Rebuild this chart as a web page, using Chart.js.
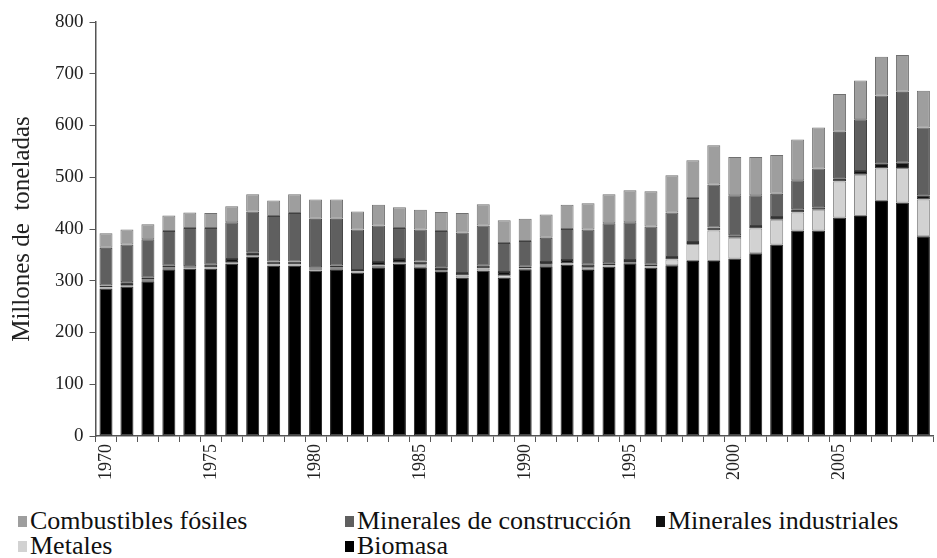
<!DOCTYPE html>
<html>
<head>
<meta charset="utf-8">
<script src="https://cdn.jsdelivr.net/npm/chart.js@4/dist/chart.umd.min.js"></script>
<style>
 body{margin:0;background:#fff;width:937px;height:558px;overflow:hidden;position:relative;font-family:"Liberation Serif";}
 #wrap{position:absolute;left:0;top:0;width:947px;height:482px;}
 #legend{position:absolute;left:0;top:508px;width:937px;font-size:26px;color:#111;}
 .item{position:absolute;white-space:nowrap;line-height:25px;}
 .item span.box{display:inline-block;width:9px;height:11px;margin-right:3px;vertical-align:2px;}
</style>
</head>
<body>
<div id="wrap"><canvas id="chart" width="947" height="482"></canvas></div>
<div id="legend"></div>
<script>
const years=[];
for(let y=1970;y<=2009;y++) years.push(String(y));

const yTicks=[0,100,200,300,400,500,600,700,800];

const biomasa=[285,289,299,322,323,323,333,347,329,329,
 320,322,316,326,333,326,317,306,320,306,
 322,328,331,321,327,334,325,330,338,338,
 343,353,370,397,397,422,425,454,451,386];
const metales=[2,3,3,3,2,3,3,3,3,3,
 3,3,2,4,3,5,4,4,4,5,
 2,3,3,4,3,2,3,11,33,59,
 40,48,48,35,40,70,80,63,67,71];
const minIndustriales=[4,5,4,4,3,5,6,5,5,5,
 3,4,3,6,6,6,5,5,5,6,
 3,5,6,6,4,4,3,5,4,6,
 5,5,5,6,5,6,7,10,10,8];
const minConstruccion=[73,73,74,67,74,71,71,79,88,94,
 94,91,78,71,60,62,70,78,78,56,
 50,47,60,68,77,73,74,86,85,83,
 77,59,45,56,75,90,100,131,137,131];
const combustibles=[28,29,29,30,30,29,31,33,30,36,
 37,37,35,40,40,38,37,38,41,44,
 43,45,47,51,56,62,68,72,73,76,
 74,74,75,79,79,73,75,75,71,71];

// bottom to top
const series=[
 {label:"Biomasa",data:biomasa,color:"#000000",border:"#222"},
 {label:"Metales",data:metales,color:"#d2d2d2",border:"#8a8a8a"},
 {label:"Minerales industriales",data:minIndustriales,color:"#111111",border:"#333"},
 {label:"Minerales de construcción",data:minConstruccion,color:"#5f5f5f",border:"#404040"},
 {label:"Combustibles fósiles",data:combustibles,color:"#9e9e9e",border:"#707070"}
];

const FONT="Liberation Serif";

new Chart(document.getElementById("chart"),{
 type:'bar',
 data:{
  labels:years,
  datasets:series.map(s=>({label:s.label,data:s.data,backgroundColor:s.color,borderColor:s.border,
   borderWidth:1,borderSkipped:false,barPercentage:0.62,categoryPercentage:1}))
 },
 options:{
  responsive:false,animation:false,devicePixelRatio:1,
  layout:{padding:{top:22,right:0,left:7,bottom:0}},
  plugins:{legend:{display:false},tooltip:{enabled:false}},
  scales:{
   x:{stacked:true,
    grid:{display:true,drawOnChartArea:false,drawTicks:true,tickLength:6,color:'#555',offset:true},
    border:{display:true,color:'#555',width:1.5},
    ticks:{autoSkip:false,minRotation:90,maxRotation:90,padding:2,color:'#222',
     font:{family:FONT,size:18},
     callback:function(v,i){let y=years[i];return (Number(y)%5===0)?y:"";}}
   },
   y:{stacked:true,min:0,max:800,
    afterBuildTicks:ax=>{ax.ticks=yTicks.map(v=>({value:v}));},
    grid:{display:true,drawOnChartArea:false,drawTicks:true,tickLength:6,color:'#555'},
    border:{display:true,color:'#555',width:1.5},
    ticks:{padding:6,color:'#222',font:{family:FONT,size:19}},
    title:{display:true,text:"Millones de  toneladas",color:'#222',font:{family:FONT,size:25},padding:{top:0,bottom:12}}
   }
  }
 }
});

// legend laid out in three columns, two rows, like the original
const legendOrder=[4,3,2,1,0];
const cols=[18,345,656];
const rows=[0,25];
const leg=document.getElementById("legend");
legendOrder.forEach((idx,k)=>{
 const s=series[idx];
 const d=document.createElement("div");
 d.className="item";
 d.style.left=cols[k%3]+"px";
 d.style.top=rows[Math.floor(k/3)]+"px";
 d.innerHTML='<span class="box" style="background:'+s.color+'"></span>'+s.label;
 leg.appendChild(d);
});
</script>
</body>
</html>
